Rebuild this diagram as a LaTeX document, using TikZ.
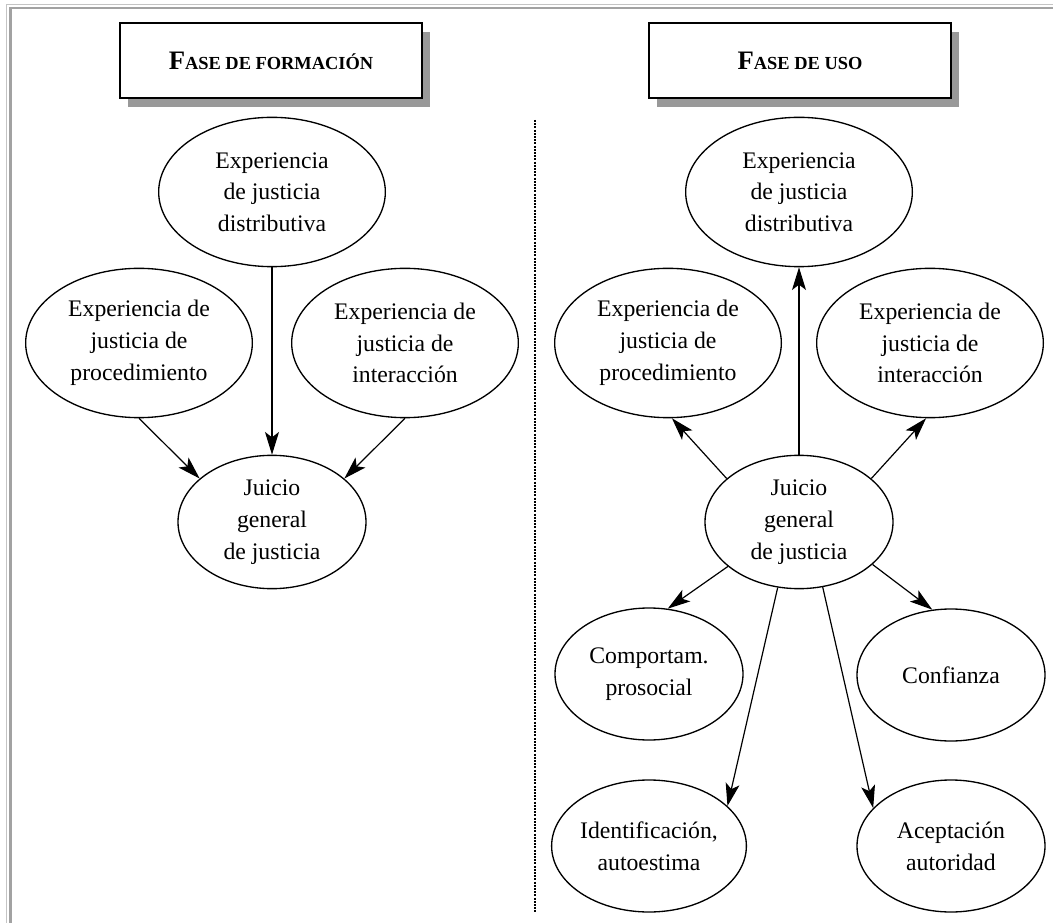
\documentclass[tikz,border=0pt]{standalone}
\usepackage{fontspec}
\setmainfont{Liberation Serif}
\usetikzlibrary{positioning,shapes.geometric,shadows,arrows.meta}

\definecolor{framelight}{HTML}{C4C4C4}
\definecolor{framedark}{HTML}{A2A2A2}
\definecolor{shadowgray}{HTML}{999999}

\newcommand\ovalfont{\fontsize{17.8pt}{23.8pt}\selectfont}
\newcommand\phasename[2]{{\fontsize{20pt}{22pt}\selectfont\bfseries #1}{\fontsize{13.8pt}{16pt}\selectfont\bfseries #2}}

\tikzset{
	oval/.style={ellipse, draw, line width=1pt, inner sep=0pt, align=center, font=\ovalfont,
		minimum width=170pt, minimum height=112pt},
	ovaljudge/.style={oval, minimum width=141pt, minimum height=100pt},
	ovalsmall/.style={oval, minimum width=141pt, minimum height=99pt},
	phase/.style={draw, line width=1.1pt, fill=white, minimum width=226.5pt, minimum height=56.25pt,
		drop shadow={shadow xshift=6pt, shadow yshift=-6.5pt, fill=shadowgray, opacity=1}},
	arr/.style={-{Stealth[length=17pt,width=10.5pt,inset=4pt]}, line width=0.9pt},
	divider/.style={line width=1.5pt, dash pattern=on 1.5pt off 0.9pt},
}

\begin{document}
\begin{tikzpicture}[x=0.75pt, y=-0.75pt]
	\useasboundingbox (0,0) rectangle (1053,923);
	
	% 1. marco y separador
	\draw[framelight, line width=0.8pt] (6.5,923) -- (6.5,4.5) -- (1053,4.5);
	\draw[framedark, line width=2.2pt] (10.5,923) -- (10.5,8) -- (1053,8);
	\draw[divider] (535,120) -- (535,912);
	
	% 2. cabeceras con sombra
	\node[phase] (hForm) at (271,60.5) {\phasename{F}{ASE DE FORMACIÓN}};
	\node[phase] (hUso) at (800,60.5) {\phasename{F}{ASE DE USO}};
	
	% 3. fase de formación
	\node[ovaljudge] (jL) at (272,522) {Juicio\\general\\de justicia};
	\node[oval, on grid, above=247.5pt of jL] (distL) {Experiencia\\de justicia\\distributiva};
	\node[oval, on grid, above left=134.25pt and 99.75pt of jL] (procL) {Experiencia de\\justicia de\\procedimiento};
	\node[oval, on grid, above right=134.25pt and 99.75pt of jL] (interL) {Experiencia de\\justicia de\\interacción};
	
	\draw[arr] (distL) -- (jL);
	\draw[arr] (procL.south) -- (jL.149);
	\draw[arr] (interL.south) -- (jL.31);
	
	% 4. fase de uso
	\node[ovaljudge] (jR) at (799,522) {Juicio\\general\\de justicia};
	\node[oval, on grid, above=247.5pt of jR] (distR) {Experiencia\\de justicia\\distributiva};
	\node[oval, on grid, above left=134.25pt and 98.25pt of jR] (procR) {Experiencia de\\justicia de\\procedimiento};
	\node[oval, on grid, above right=134.25pt and 98.25pt of jR] (interR) {Experiencia de\\justicia de\\interacción};
	\node[ovalsmall, on grid, below left=114pt and 112.5pt of jR] (comp) {Comportam.\\prosocial};
	\node[ovalsmall, on grid, below right=114.75pt and 114pt of jR] (conf) {Confianza};
	\node[ovalsmall, on grid, below=129pt of comp] (ident) {Identificación,\\autoestima};
	\node[ovalsmall, on grid, below=128.25pt of conf] (acept) {Aceptación\\autoridad};
	
	\draw[arr] (jR) -- (distR);
	\draw[arr] (jR.149) -- (procR.273);
	\draw[arr] (jR.31) -- (interR.267);
	\draw[arr] (jR.212) -- (comp.74);
	\draw[arr] (jR.330) -- (conf.106);
	\draw[arr] (jR.252) -- (ident.27);
	\draw[arr] (jR.290) -- (acept.154);
\end{tikzpicture}
\end{document}
